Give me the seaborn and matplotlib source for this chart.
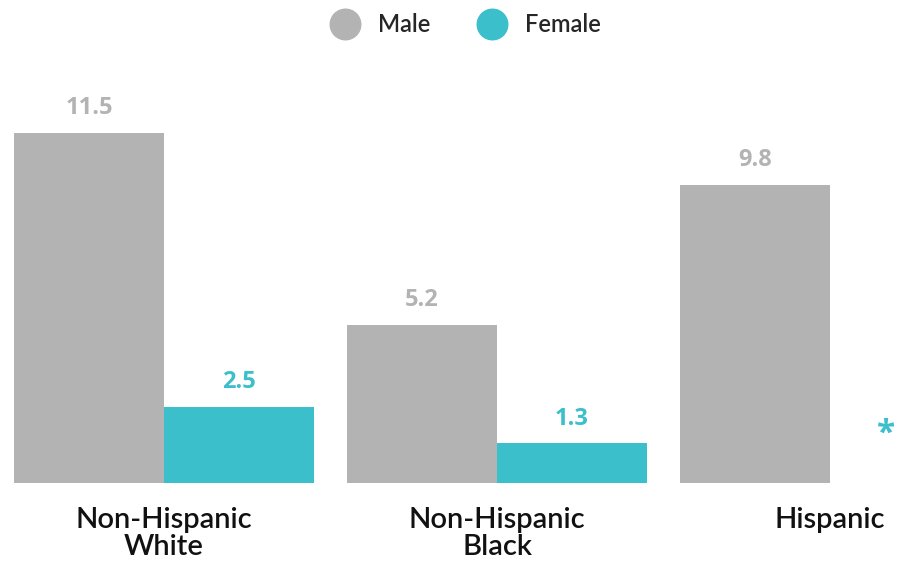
import numpy as np
import pandas as pd
import seaborn as sns
from matplotlib import pyplot as plt
from matplotlib.lines import Line2D

groups = ['Non-Hispanic\nWhite', 'Non-Hispanic\nBlack', 'Hispanic']
male = [11.5, 5.2, 9.8]
female = [2.5, 1.3, np.nan]
sexes = ['Male', 'Female']
colors = ['#b3b3b3', '#3abfcb']

df = pd.DataFrame({
    'group': groups * 2,
    'sex': ['Male'] * 3 + ['Female'] * 3,
    'value': male + female,
})

sns.set_style('white')
plt.rcParams['font.family'] = ['Lato', 'DejaVu Sans']

fig = plt.figure(figsize=(9.04, 5.63), dpi=100)
ax = fig.add_axes([0, 0.1421, 1, 0.757])
sns.barplot(data=df, x='group', y='value', hue='sex', hue_order=sexes,
            palette=colors, width=0.9, saturation=1, ax=ax, legend=False,
            linewidth=0)

ax.set_xlim(-0.4925, 2.222)
ax.set_ylim(0, 14)
sns.despine(ax=ax, left=True, bottom=True)
ax.set_yticks([])
ax.set_xlabel('')
ax.set_ylabel('')
ax.tick_params(axis='x', length=0, pad=17)
for t in ax.get_xticklabels():
    t.set_fontsize(21)
    t.set_color('#111111')
    t.set_fontweight('semibold')
    t.set_linespacing(1.05)

# value labels
for cont, col in zip(ax.containers, colors):
    for bar in cont:
        h = bar.get_height()
        if np.isnan(h):
            continue
        ax.annotate(f'{h:.1f}', (bar.get_x() + bar.get_width() / 2, h),
                    xytext=(0, 9), textcoords='offset points',
                    ha='center', va='bottom', color=col, fontsize=17,
                    fontweight='bold', family=['Open Sans', 'DejaVu Sans'])

# missing female value for Hispanic
ax.text(2.168, 1.6, '*', color=colors[1], fontsize=24, fontweight='bold',
        ha='center', va='center', family=['Open Sans', 'DejaVu Sans'])

handles = [Line2D([], [], marker='o', linestyle='', markersize=22,
                  markerfacecolor=c, markeredgecolor=c) for c in colors]
fig.legend(handles, sexes, loc='upper center', bbox_to_anchor=(0.51, 1.015),
           ncol=2, frameon=False, fontsize=17, handletextpad=0.4,
           columnspacing=1.6, prop={'size': 17, 'weight': 'semibold'})

plt.savefig('out.png', dpi=100)
